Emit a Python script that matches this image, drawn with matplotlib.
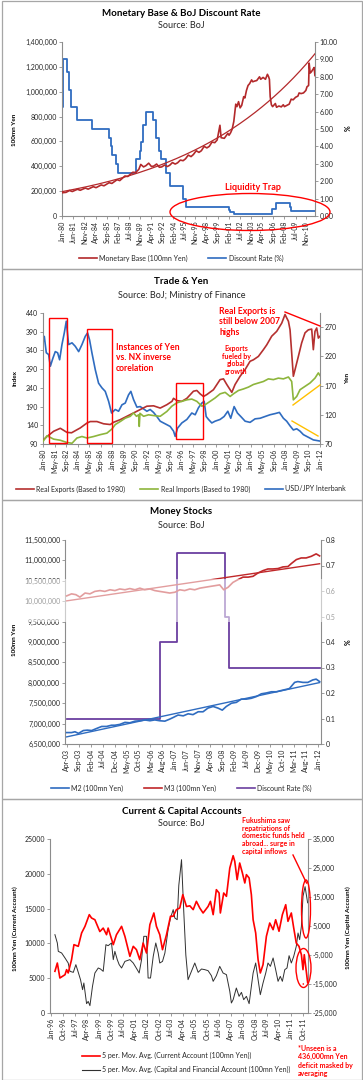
import numpy as np
import matplotlib
matplotlib.use('Agg')
import matplotlib.pyplot as plt
from matplotlib.patches import Ellipse, Rectangle
from matplotlib.lines import Line2D
from matplotlib.ticker import FuncFormatter

plt.rcParams['font.family'] = ['Lato', 'DejaVu Sans']

W, H = 363, 1080
MONTHS = ['Jan', 'Feb', 'Mar', 'Apr', 'May', 'Jun', 'Jul', 'Aug', 'Sep', 'Oct', 'Nov', 'Dec']

# ---------------- Panel 1: Monetary Base & BoJ Discount Rate ----------------
p1_ticks = ['Jan-80', 'Jun-81', 'Nov-82', 'Apr-84', 'Sep-85', 'Feb-87', 'Jul-88', 'Nov-89',
            'Apr-91', 'Sep-92', 'Feb-94', 'Jul-95', 'Nov-96', 'Apr-98', 'Sep-99', 'Feb-01',
            'Jul-02', 'Nov-03', 'Apr-05', 'Sep-06', 'Feb-08', 'Jul-09', 'Nov-10']
monetary_base = [
    (1980.0, 187000), (1980.5, 190000), (1980.95, 205000), (1981.3, 197000), (1981.95, 215000),
    (1982.3, 207000), (1982.95, 225000), (1983.3, 216000), (1983.95, 236000), (1984.3, 228000),
    (1984.95, 250000), (1985.3, 243000), (1985.95, 268000), (1986.3, 262000), (1986.95, 292000),
    (1987.3, 285000), (1987.95, 322000), (1988.3, 318000), (1988.95, 352000), (1989.3, 350000),
    (1989.7, 375000), (1989.95, 415000), (1990.3, 395000), (1990.6, 405000), (1990.95, 425000),
    (1991.3, 398000), (1991.6, 402000), (1991.95, 418000), (1992.3, 392000), (1992.6, 395000),
    (1992.95, 410000), (1993.3, 398000), (1993.6, 408000), (1993.95, 430000), (1994.3, 418000),
    (1994.6, 428000), (1994.95, 450000), (1995.3, 445000), (1995.6, 460000), (1995.95, 490000),
    (1996.3, 478000), (1996.6, 495000), (1996.95, 525000), (1997.3, 512000), (1997.6, 525000),
    (1997.95, 560000), (1998.3, 548000), (1998.6, 560000), (1998.95, 595000), (1999.3, 590000),
    (1999.6, 612000), (1999.95, 730000), (2000.1, 630000), (2000.5, 625000), (2000.95, 665000),
    (2001.1, 650000), (2001.3, 670000), (2001.5, 700000), (2001.7, 760000), (2001.95, 900000),
    (2002.1, 880000), (2002.3, 920000), (2002.5, 870000), (2002.7, 890000), (2002.95, 960000),
    (2003.1, 950000), (2003.3, 1010000), (2003.5, 1050000), (2003.7, 1065000), (2003.95, 1095000),
    (2004.1, 1080000), (2004.3, 1085000), (2004.6, 1090000), (2004.95, 1120000), (2005.1, 1100000),
    (2005.4, 1115000), (2005.7, 1100000), (2005.95, 1140000), (2006.1, 1120000), (2006.2, 1100000),
    (2006.3, 960000), (2006.45, 895000), (2006.6, 880000), (2006.95, 905000), (2007.1, 875000),
    (2007.4, 885000), (2007.7, 878000), (2007.95, 895000), (2008.1, 880000), (2008.4, 890000),
    (2008.7, 900000), (2008.95, 940000), (2009.2, 935000), (2009.5, 955000), (2009.8, 965000),
    (2009.95, 990000), (2010.2, 985000), (2010.5, 990000), (2010.8, 1010000), (2010.95, 1040000),
    (2011.15, 1050000), (2011.22, 1230000), (2011.35, 1150000), (2011.5, 1160000),
    (2011.7, 1180000), (2011.85, 1195000), (2011.95, 1130000)]
discount_rate_1 = [
    (1980.0, 6.25), (1980.17, 9.0), (1980.67, 8.25), (1980.83, 7.25), (1981.17, 6.25),
    (1981.92, 5.5), (1983.75, 5.0), (1986.0, 4.5), (1986.17, 4.0), (1986.33, 3.5),
    (1986.83, 3.0), (1987.08, 2.5), (1989.33, 3.25), (1989.83, 3.75), (1989.92, 4.25),
    (1990.17, 5.25), (1990.58, 6.0), (1991.5, 5.5), (1991.83, 5.0), (1991.92, 4.5),
    (1992.25, 3.75), (1992.5, 3.25), (1993.08, 2.5), (1993.67, 1.75), (1995.25, 1.0),
    (1995.67, 0.5), (2001.08, 0.35), (2001.17, 0.25), (2001.67, 0.1), (2006.5, 0.4),
    (2007.08, 0.75), (2008.75, 0.5), (2008.92, 0.3), (2011.95, 0.3)]

# ---------------- Panel 2: Trade & Yen ----------------
p2_ticks = ['Jan-80', 'May-81', 'Sep-82', 'Jan-84', 'May-85', 'Sep-86', 'Jan-88', 'May-89',
            'Sep-90', 'Jan-92', 'May-93', 'Sep-94', 'Jan-96', 'May-97', 'Sep-98', 'Jan-00',
            'May-01', 'Sep-02', 'Jan-04', 'May-05', 'Sep-06', 'Jan-08', 'May-09', 'Sep-10', 'Jan-12']
real_exports = [
    (1980.0, 100), (1980.46, 110), (1981.23, 124), (1982.0, 132), (1982.77, 121), (1983.3, 120),
    (1983.92, 128), (1984.31, 133), (1985.08, 146), (1985.46, 150), (1986.23, 150), (1987.0, 144),
    (1987.77, 142), (1988.15, 148), (1988.92, 155), (1989.69, 164), (1990.46, 173), (1991.23, 182),
    (1992.0, 191), (1992.77, 192), (1993.54, 186), (1994.31, 195), (1994.9, 204), (1995.08, 212),
    (1995.46, 206), (1996.04, 204), (1996.62, 212), (1997.38, 231), (1997.77, 233), (1998.15, 224),
    (1998.54, 217), (1998.92, 222), (1999.69, 235), (2000.46, 262), (2000.85, 264), (2001.23, 249),
    (2001.81, 228), (2002.19, 249), (2002.77, 271), (2003.35, 289), (2003.92, 311), (2004.31, 315),
    (2004.88, 324), (2005.46, 342), (2005.85, 355), (2006.42, 378), (2007.0, 391), (2007.58, 413),
    (2007.96, 436), (2008.15, 427), (2008.35, 418), (2008.54, 395), (2008.73, 333), (2008.92, 271),
    (2009.12, 289), (2009.5, 324), (2009.88, 360), (2010.27, 387), (2010.65, 395), (2011.04, 397),
    (2011.23, 342), (2011.42, 391), (2011.62, 400), (2011.81, 373), (2012.0, 378)]
real_imports = [
    (1980.0, 97), (1980.46, 112), (1981.23, 103), (1982.0, 100), (1982.77, 94), (1983.35, 92),
    (1983.92, 106), (1984.5, 110), (1985.08, 106), (1985.85, 110), (1986.62, 115), (1987.38, 119),
    (1987.96, 130), (1988.35, 142), (1988.92, 150), (1989.5, 159), (1990.08, 164), (1990.46, 173),
    (1990.8, 164), (1991.05, 168), (1991.12, 137), (1991.2, 172), (1991.62, 164), (1992.19, 168),
    (1992.77, 166), (1993.54, 164), (1994.31, 177), (1994.88, 191), (1995.46, 200), (1996.04, 204),
    (1996.62, 208), (1997.19, 210), (1997.77, 204), (1998.35, 191), (1998.73, 195), (1999.31, 204),
    (1999.88, 213), (2000.46, 224), (2001.04, 228), (2001.62, 217), (2002.0, 224), (2002.58, 233),
    (2003.15, 237), (2003.73, 242), (2004.31, 249), (2004.88, 253), (2005.46, 257), (2006.04, 264),
    (2006.62, 262), (2007.19, 266), (2007.77, 264), (2008.35, 269), (2008.73, 257), (2008.92, 208),
    (2009.31, 217), (2009.69, 235), (2010.27, 244), (2010.85, 253), (2011.42, 266), (2011.81, 280),
    (2012.0, 273)]
usd_jpy = [
    (1980.0, 243), (1980.15, 254), (1980.38, 226), (1980.65, 223), (1980.85, 203), (1981.15, 217),
    (1981.42, 228), (1981.69, 226), (1981.92, 214), (1982.19, 240), (1982.46, 260), (1982.69, 280),
    (1982.96, 240), (1983.35, 243), (1983.73, 237), (1984.12, 228), (1984.5, 240), (1984.88, 254),
    (1985.15, 260), (1985.38, 248), (1985.65, 226), (1986.04, 197), (1986.42, 174), (1986.81, 166),
    (1987.19, 160), (1987.58, 143), (1987.92, 123), (1988.35, 129), (1988.73, 126), (1989.12, 137),
    (1989.5, 140), (1989.88, 154), (1990.15, 160), (1990.46, 146), (1990.85, 133), (1991.23, 134),
    (1991.62, 130), (1992.0, 126), (1992.38, 129), (1992.77, 124), (1993.15, 117), (1993.54, 109),
    (1993.92, 106), (1994.31, 103), (1994.69, 100), (1995.08, 92), (1995.27, 83), (1995.54, 97),
    (1996.04, 106), (1996.62, 112), (1997.19, 123), (1997.58, 120), (1997.96, 132), (1998.35, 140),
    (1998.62, 143), (1998.85, 117), (1999.12, 112), (1999.5, 106), (1999.88, 109), (2000.46, 112),
    (2000.92, 117), (2001.35, 126), (2001.69, 114), (2002.08, 134), (2002.46, 123), (2002.85, 117),
    (2003.35, 109), (2003.92, 107), (2004.5, 113), (2005.08, 114), (2005.65, 117), (2006.23, 120),
    (2006.81, 122), (2007.31, 124), (2007.77, 114), (2008.15, 109), (2008.54, 101), (2008.92, 94),
    (2009.31, 96), (2009.69, 92), (2010.08, 86), (2010.46, 83), (2010.85, 80), (2011.23, 77),
    (2011.62, 76), (2012.0, 75)]

# ---------------- Panel 3: Money Stocks ----------------
p3_ticks = ['Apr-03', 'Sep-03', 'Feb-04', 'Jul-04', 'Dec-04', 'May-05', 'Oct-05', 'Mar-06',
            'Aug-06', 'Jan-07', 'Jun-07', 'Nov-07', 'Apr-08', 'Sep-08', 'Feb-09', 'Jul-09',
            'Dec-09', 'May-10', 'Oct-10', 'Mar-11', 'Aug-11', 'Jan-12']
m2 = [
    (2003.25, 6780000), (2003.42, 6780000), (2003.54, 6800000), (2003.66, 6760000),
    (2003.83, 6830000), (2003.97, 6840000), (2004.12, 6830000), (2004.29, 6880000),
    (2004.47, 6930000), (2004.64, 6930000), (2004.81, 6960000), (2004.93, 6960000),
    (2005.10, 6980000), (2005.28, 7030000), (2005.45, 7020000), (2005.63, 7060000),
    (2005.80, 7070000), (2005.97, 7090000), (2006.15, 7070000), (2006.32, 7090000),
    (2006.49, 7070000), (2006.67, 7060000), (2006.84, 7110000), (2006.96, 7150000),
    (2007.13, 7210000), (2007.31, 7190000), (2007.48, 7240000), (2007.65, 7220000),
    (2007.83, 7290000), (2008.00, 7290000), (2008.17, 7380000), (2008.35, 7420000),
    (2008.52, 7380000), (2008.67, 7330000), (2008.81, 7420000), (2008.99, 7500000),
    (2009.16, 7520000), (2009.33, 7600000), (2009.51, 7600000), (2009.68, 7620000),
    (2009.85, 7660000), (2010.03, 7730000), (2010.20, 7750000), (2010.38, 7780000),
    (2010.55, 7780000), (2010.72, 7810000), (2010.90, 7840000), (2011.01, 7860000),
    (2011.19, 8010000), (2011.30, 8030000), (2011.48, 8010000), (2011.65, 8010000),
    (2011.82, 8070000), (2011.94, 8090000), (2012.06, 8030000)]
m3 = [
    (2003.25, 10130000), (2003.42, 10180000), (2003.57, 10160000), (2003.71, 10100000),
    (2003.89, 10200000), (2004.06, 10180000), (2004.23, 10240000), (2004.41, 10260000),
    (2004.58, 10240000), (2004.76, 10280000), (2004.93, 10260000), (2005.10, 10300000),
    (2005.28, 10280000), (2005.45, 10310000), (2005.63, 10280000), (2005.80, 10320000),
    (2005.97, 10280000), (2006.15, 10300000), (2006.32, 10260000), (2006.49, 10240000),
    (2006.67, 10220000), (2006.84, 10200000), (2007.02, 10220000), (2007.19, 10280000),
    (2007.36, 10260000), (2007.54, 10300000), (2007.71, 10280000), (2007.89, 10320000),
    (2008.06, 10340000), (2008.23, 10360000), (2008.41, 10380000), (2008.58, 10400000),
    (2008.72, 10280000), (2008.87, 10340000), (2009.04, 10460000), (2009.22, 10530000),
    (2009.39, 10590000), (2009.57, 10590000), (2009.74, 10610000), (2009.91, 10690000),
    (2010.09, 10750000), (2010.26, 10790000), (2010.43, 10790000), (2010.61, 10800000),
    (2010.78, 10840000), (2010.96, 10850000), (2011.07, 10920000), (2011.25, 11020000),
    (2011.42, 11060000), (2011.59, 11060000), (2011.77, 11100000), (2011.94, 11160000),
    (2012.06, 11110000)]
discount_rate_3 = [(2003.25, 0.1), (2006.5, 0.4), (2007.08, 0.75), (2008.75, 0.5),
                   (2008.92, 0.3), (2012.08, 0.3)]

# ---------------- Panel 4: Current & Capital Accounts ----------------
p4_ticks = ['Jan-96', 'Oct-96', 'Jul-97', 'Apr-98', 'Jan-99', 'Oct-99', 'Jul-00', 'Apr-01',
            'Jan-02', 'Oct-02', 'Jul-03', 'Apr-04', 'Jan-05', 'Oct-05', 'Jul-06', 'Apr-07',
            'Jan-08', 'Oct-08', 'Jul-09', 'Apr-10', 'Jan-11', 'Oct-11']
current_ma = [
    (1996.25, 5990), (1996.40, 7180), (1996.56, 5030), (1996.88, 5500), (1996.98, 6230),
    (1997.08, 5750), (1997.29, 7660), (1997.44, 9820), (1997.71, 9580), (1997.92, 11500),
    (1998.13, 12450), (1998.40, 14130), (1998.54, 13650), (1998.75, 13400), (1999.06, 11700),
    (1999.27, 12200), (1999.48, 11250), (1999.58, 12200), (1999.90, 9820), (2000.10, 11250),
    (2000.42, 12450), (2000.63, 11000), (2000.94, 8140), (2001.15, 9580), (2001.35, 9100),
    (2001.56, 7660), (2001.77, 10050), (2001.98, 8620), (2002.19, 12690), (2002.44, 14370),
    (2002.60, 12450), (2002.81, 11250), (2002.98, 9100), (2003.23, 11250), (2003.48, 13900),
    (2003.65, 13900), (2003.85, 14850), (2004.06, 15090), (2004.25, 17000), (2004.48, 15300),
    (2004.69, 15400), (2004.90, 14850), (2005.10, 16045), (2005.31, 15090), (2005.52, 14370),
    (2005.83, 15300), (2005.98, 16045), (2006.15, 14130), (2006.35, 17720), (2006.52, 17240),
    (2006.60, 14370), (2006.81, 17240), (2006.98, 16760), (2007.19, 20830), (2007.40, 22600),
    (2007.50, 21790), (2007.65, 19160), (2007.81, 21550), (2007.98, 20110), (2008.13, 18680),
    (2008.23, 19880), (2008.40, 19400), (2008.54, 17000), (2008.65, 13400), (2008.81, 11500),
    (2008.96, 7660), (2009.10, 5750), (2009.27, 6950), (2009.48, 11020), (2009.69, 12930),
    (2009.90, 11970), (2010.06, 13400), (2010.27, 11740), (2010.48, 14130), (2010.69, 15560),
    (2010.83, 13170), (2011.04, 14370), (2011.19, 12210), (2011.35, 10050), (2011.52, 9580),
    (2011.67, 8380), (2011.77, 6230), (2011.85, 8380), (2012.06, 4400)]
capital_ma = [
    (1996.25, 2010), (1996.40, -860), (1996.46, -3740), (1996.67, -4310), (1996.88, -6030),
    (1997.08, -7760), (1997.19, -10630), (1997.40, -10980), (1997.56, -8330), (1997.71, -10980),
    (1997.85, -13500), (1997.98, -16950), (1998.06, -14650), (1998.23, -21780), (1998.33, -21000),
    (1998.44, -22470), (1998.60, -15800), (1998.75, -11210), (1998.96, -9480), (1999.10, -9830),
    (1999.27, -10630), (1999.44, -1440), (1999.58, -1780), (1999.79, -860), (1999.90, -6600),
    (2000.00, -3740), (2000.15, -6600), (2000.27, -8330), (2000.42, -9480), (2000.63, -7200),
    (2000.94, -6600), (2001.15, -7760), (2001.40, -10060), (2001.52, -11210), (2001.67, -6600),
    (2001.81, 1440), (2001.98, 1440), (2002.08, -12930), (2002.23, -12930), (2002.40, -5470),
    (2002.56, -860), (2002.71, -4310), (2002.81, -7760), (2002.98, -7200), (2003.13, -4310),
    (2003.33, 3740), (2003.48, 7760), (2003.65, 10630), (2003.75, 7760), (2003.90, 7180),
    (2004.00, 19000), (2004.17, 27870), (2004.31, 10000), (2004.44, -5000), (2004.58, -13500),
    (2004.79, -10630), (2005.00, -7760), (2005.21, -10980), (2005.42, -9830), (2005.63, -10060),
    (2005.83, -10400), (2006.04, -12130), (2006.15, -14080), (2006.35, -12130), (2006.56, -8910),
    (2006.77, -11210), (2006.98, -11780), (2007.19, -17530), (2007.29, -21550), (2007.40, -20400),
    (2007.60, -16380), (2007.77, -19250), (2007.92, -17880), (2008.06, -20400), (2008.23, -19250),
    (2008.40, -21780), (2008.54, -15800), (2008.65, -11210), (2008.81, -7760), (2008.96, -13500),
    (2009.10, -18680), (2009.27, -14650), (2009.44, -11210), (2009.58, -7760), (2009.73, -8910),
    (2009.90, -6030), (2010.06, -10060), (2010.21, -14080), (2010.35, -12360), (2010.48, -14080),
    (2010.63, -10060), (2010.77, -9480), (2010.90, -5240), (2011.04, -7760), (2011.19, -5470),
    (2011.35, -2010), (2011.46, 2590), (2011.56, 290), (2011.67, 4890), (2011.77, 15230),
    (2011.90, 18560), (2012.06, 13000)]

# ---------------- helpers ----------------
def box(l, t, r, b):
    return [l / W, 1 - b / H, (r - l) / W, (b - t) / H]


def fx(x):
    return x / W


def fy(y):
    return 1 - y / H


def lab_month(lab, by, bm):
    mon, yy = lab.split('-')
    y = int(yy)
    y += 1900 if y > 50 else 2000
    return (y - by) * 12 + MONTHS.index(mon) - bm


def split(pairs, by, bm):
    a = np.array(pairs, dtype=float)
    return (a[:, 0] - by) * 12 - bm, a[:, 1]


SPINE = '#8c8c8c'
TXT = '#262626'
TICKFS = 5.0


def style(ax, axr, labels, by, bm):
    ax.spines['top'].set_visible(False)
    ax.spines['right'].set_visible(False)
    for s in ['left', 'bottom']:
        ax.spines[s].set_color(SPINE)
        ax.spines[s].set_linewidth(0.8)
    axr.spines['top'].set_visible(False)
    axr.spines['left'].set_visible(False)
    axr.spines['bottom'].set_visible(False)
    axr.spines['right'].set_color(SPINE)
    axr.spines['right'].set_linewidth(0.8)
    pos = [lab_month(l, by, bm) for l in labels]
    ax.set_xticks(pos)
    ax.set_xticklabels(labels, rotation=90, fontsize=TICKFS, color=TXT)
    for a in (ax, axr):
        a.tick_params(axis='both', length=2, width=0.6, color=SPINE, labelsize=TICKFS,
                      labelcolor=TXT, pad=1.5)
    ax.patch.set_visible(False)


fig = plt.figure(figsize=(W / 100, H / 100), dpi=100)
fig.patch.set_facecolor('white')

BORDER = '#a6a6a6'
for (t, b) in [(0.5, 269), (269, 500), (500, 799), (799, 1079.5)]:
    fig.add_artist(Rectangle((fx(1.5), fy(b)), 360.0 / W, (b - t) / H, transform=fig.transFigure,
                             fill=False, ec=BORDER, lw=0.9, zorder=30))


def title(y1, y2, t1, t2):
    fig.text(0.5, fy(y1), t1, ha='center', va='center', fontsize=7, fontweight='bold', color='black')
    fig.text(0.5, fy(y2), t2, ha='center', va='center', fontsize=6.5, color=TXT)


def ylab(x, y, s, fs=4.6):
    fig.text(fx(x), fy(y), s, rotation=90, ha='center', va='center', fontsize=fs,
             fontweight='bold', color='black')


def legend(handles, labels, x, y, ncol, loc='center', spacing=3.0, lsp=0.5):
    fig.legend(handles, labels, loc=loc, bbox_to_anchor=(fx(x), fy(y)), ncol=ncol, frameon=False,
               fontsize=5, handlelength=2.6, handletextpad=0.3, columnspacing=spacing,
               labelcolor=TXT, borderaxespad=0, borderpad=0, labelspacing=lsp)


# ================= Panel 1 =================
RED1, BLUE = '#b3292b', '#2f6cc0'
ax1 = fig.add_axes(box(62, 42, 315, 216))
ax1r = ax1.twinx()
t_mb, v_mb = split(monetary_base, 1980, 0)
t_dr, v_dr = split(discount_rate_1, 1980, 0)
ax1.plot(t_mb, v_mb, color=RED1, lw=1.2, zorder=3)
coef = np.polyfit(t_mb, np.log(v_mb), 1)
tt = np.linspace(0, 383.5, 200)
ax1.plot(tt, np.exp(np.polyval(coef, tt)), color=RED1, lw=0.9, zorder=3)
ax1r.plot(t_dr, v_dr, color=BLUE, lw=1.3, drawstyle='steps-post')
ax1.set_xlim(0, 383.5)
ax1r.set_xlim(0, 383.5)
ax1.set_ylim(0, 1400000)
ax1.set_yticks(np.arange(0, 1400001, 200000))
ax1.yaxis.set_major_formatter(FuncFormatter(lambda v, p: f'{int(v):,}'))
ax1r.set_ylim(0, 10)
ax1r.set_yticks(np.arange(0, 10.01, 1))
ax1r.yaxis.set_major_formatter(FuncFormatter(lambda v, p: f'{v:.2f}'))
style(ax1, ax1r, p1_ticks, 1980, 0)
ax1.set_zorder(ax1r.get_zorder() + 1)
title(13, 25, 'Monetary Base & BoJ Discount Rate', 'Source: BoJ')
ylab(15, 130, '100mn Yen')
ylab(348, 128, '%', fs=5)
legend([Line2D([], [], color=RED1, lw=1.2), Line2D([], [], color=BLUE, lw=1.2)],
       ['Monetary Base (100mn Yen)', 'Discount Rate (%)'], 181, 258, 2)
fig.add_artist(Ellipse((fx(250), fy(212)), 160 / W, 37 / H, transform=fig.transFigure,
                       fill=False, ec='#ff0000', lw=1.0, zorder=25))
fig.text(fx(253), fy(187), 'Liquidity Trap', ha='center', va='center', fontsize=6.5,
         fontweight='bold', color='#ff0000')

# ================= Panel 2 =================
RED2, GREEN = '#b5302f', '#8db53c'
ax2 = fig.add_axes(box(43, 313, 320, 444))
ax2r = ax2.twinx()
t_ex, v_ex = split(real_exports, 1980, 0)
t_im, v_im = split(real_imports, 1980, 0)
t_fx, v_fx = split(usd_jpy, 1980, 0)
ax2.plot(t_ex, v_ex, color=RED2, lw=1.2, zorder=3)
ax2.plot(t_im, v_im, color=GREEN, lw=1.2, zorder=3)
ax2r.plot(t_fx, v_fx, color=BLUE, lw=1.2)
for a in (ax2, ax2r):
    a.set_xlim(0, 384)
ax2.set_ylim(90, 440)
ax2.set_yticks(np.arange(90, 441, 50))
ax2r.set_ylim(70, 294)
ax2r.set_yticks(np.arange(70, 271, 50))
style(ax2, ax2r, p2_ticks, 1980, 0)
ax2.set_zorder(ax2r.get_zorder() + 1)
title(282, 295, 'Trade & Yen', 'Source: BoJ; Ministry of Finance')
ylab(15, 378, 'Index')
ylab(348, 378, 'Yen')
legend([Line2D([], [], color=RED2, lw=1.2), Line2D([], [], color=GREEN, lw=1.2),
        Line2D([], [], color=BLUE, lw=1.2)],
       ['Real Exports (Based to 1980)', 'Real Imports (Based to 1980)', 'USD/JPY Interbank'],
       181, 489, 3, spacing=2.2)
for (l, t, r, b) in [(49, 318, 67, 443), (87, 329, 112, 443), (176, 383, 203, 439)]:
    fig.add_artist(Rectangle((fx(l), fy(b)), (r - l) / W, (b - t) / H, transform=fig.transFigure,
                             fill=False, ec='#ff0000', lw=1.0, zorder=25))
fig.text(fx(116), fy(358), 'Instances of Yen\nvs. NX inverse\ncorelation', ha='left', va='center',
         fontsize=6.2, fontweight='bold', color='#ff0000', linespacing=1.15)
fig.text(fx(219), fy(322), 'Real Exports is\nstill below 2007\nhighs', ha='left', va='center',
         fontsize=6.2, fontweight='bold', color='#ff0000', linespacing=1.15)
fig.text(fx(236), fy(360), 'Exports\nfueled by\nglobal\ngrowth', ha='center', va='center',
         fontsize=5.0, fontweight='bold', color='#ff0000', linespacing=1.15)
fig.add_artist(Line2D([fx(285), fx(320)], [fy(312), fy(326)], transform=fig.transFigure,
                      color='#ff0000', lw=1.0, zorder=25))
fig.add_artist(Line2D([fx(293), fx(320)], [fy(405), fy(385)], transform=fig.transFigure,
                      color='#ffc000', lw=1.0, zorder=25))
fig.add_artist(Line2D([fx(292), fx(318)], [fy(421), fy(436)], transform=fig.transFigure,
                      color='#ffc000', lw=1.0, zorder=25))

# ================= Panel 3 =================
RED3, PURPLE = '#c0282a', '#6b3fa0'
ax3 = fig.add_axes(box(65, 540, 321, 744))
ax3r = ax3.twinx()
t_m2, v_m2 = split(m2, 2003, 3)
t_m3, v_m3 = split(m3, 2003, 3)
t_d3, v_d3 = split(discount_rate_3, 2003, 3)
ax3.plot(t_m2, v_m2, color=BLUE, lw=1.2, zorder=3)
ax3.plot(t_m3, v_m3, color=RED3, lw=1.2, zorder=3)
tt3 = np.array([t_m2[0], t_m2[-1]])
ax3.plot(tt3, np.polyval(np.polyfit(t_m2, v_m2, 1), tt3), color=BLUE, lw=1.0, zorder=3)
ax3.plot(tt3, np.polyval(np.polyfit(t_m3, v_m3, 1), tt3), color=RED3, lw=1.0, zorder=3)
ax3r.plot(t_d3, v_d3, color=PURPLE, lw=1.3, drawstyle='steps-post')
for a in (ax3, ax3r):
    a.set_xlim(-0.7, 106.3)
ax3.set_ylim(6500000, 11500000)
ax3.set_yticks(np.arange(6500000, 11500001, 500000))
ax3.yaxis.set_major_formatter(FuncFormatter(lambda v, p: f'{int(round(v)):,}'))
ax3r.set_ylim(0, 0.8)
ax3r.set_yticks(np.arange(0, 0.81, 0.1))
ax3r.yaxis.set_major_formatter(FuncFormatter(lambda v, p: '0' if abs(v) < 1e-9 else f'{v:.1f}'))
style(ax3, ax3r, p3_ticks, 2003, 3)
ax3.set_zorder(ax3r.get_zorder() + 1)
title(512, 526, 'Money Stocks', 'Source: BoJ')
ylab(15, 640, '100mn Yen')
ylab(348, 642, '%', fs=5)
legend([Line2D([], [], color=BLUE, lw=1.2), Line2D([], [], color=RED3, lw=1.2),
        Line2D([], [], color=PURPLE, lw=1.2)],
       ['M2 (100mn Yen)', 'M3 (100mn Yen)', 'Discount Rate (%)'], 181, 788, 3, spacing=3.0)
# translucent watermark band
fig.add_artist(Rectangle((0, fy(622)), 1, (622 - 579) / H, transform=fig.transFigure,
                         color='white', alpha=0.55, lw=0, zorder=20))

# ================= Panel 4 =================
RED4, GRAY = '#ff0000', '#303030'
ax4 = fig.add_axes(box(50, 839, 308, 1013))
ax4r = ax4.twinx()
t_cu, v_cu = split(current_ma, 1996, 0)
t_ca, v_ca = split(capital_ma, 1996, 0)
ax4.plot(t_cu, v_cu, color=RED4, lw=1.2, zorder=3)
ax4r.plot(t_ca, v_ca, color=GRAY, lw=0.7)
for a in (ax4, ax4r):
    a.set_xlim(-0.7, 193)
ax4.set_ylim(0, 25000)
ax4.set_yticks(np.arange(0, 25001, 5000))
ax4r.set_ylim(-25000, 35000)
ax4r.set_yticks(np.arange(-25000, 35001, 10000))
ax4r.yaxis.set_major_formatter(FuncFormatter(lambda v, p: f'{int(v):,}'))
style(ax4, ax4r, p4_ticks, 1996, 0)
ax4.set_zorder(ax4r.get_zorder() + 1)
title(812, 824, 'Current & Capital Accounts', 'Source: BoJ')
ylab(15, 929, '100mn Yen (Current Account)')
ylab(348, 928, '100mn Yen (Capital Account)')
legend([Line2D([], [], color=RED4, lw=1.2), Line2D([], [], color=GRAY, lw=0.8)],
       ['5 per. Mov. Avg. (Current Account (100mn Yen))',
        '5 per. Mov. Avg. (Capital and Financial Account (100mn Yen))'],
       82, 1052, 1, loc='upper left', lsp=1.0)
fig.text(fx(242), fy(836), 'Fukushima saw\nrepatriations of\ndomestic funds held\nabroad... surge in\ncapital inflows',
         ha='left', va='center', fontsize=5, fontweight='bold', color='#ff0000', linespacing=1.15)
fig.text(fx(298), fy(1061), '*Unseen is a\n436,000mn Yen\ndeficit masked by\naveraging',
         ha='left', va='center', fontsize=5, fontweight='bold', color='#ff0000', linespacing=1.2)
fig.add_artist(Line2D([fx(293), fx(306.5)], [fy(855), fy(883)], transform=fig.transFigure,
                      color='#ff0000', lw=1.0, zorder=25))
fig.add_artist(Ellipse((fx(306), fy(909)), 9 / W, 58 / H, transform=fig.transFigure,
                       fill=False, ec='#ff0000', lw=1.0, zorder=25))
fig.add_artist(Ellipse((fx(303.5), fy(968)), 15 / W, 39 / H, transform=fig.transFigure,
                       fill=False, ec='#ff0000', lw=1.0, zorder=25))
fig.add_artist(Ellipse((fx(303.3), fy(984)), 1.6 / W, 1.6 / H, transform=fig.transFigure,
                       fc='#ff0000', ec='none', zorder=25))

fig.savefig('out.png', dpi=100, facecolor='white')
